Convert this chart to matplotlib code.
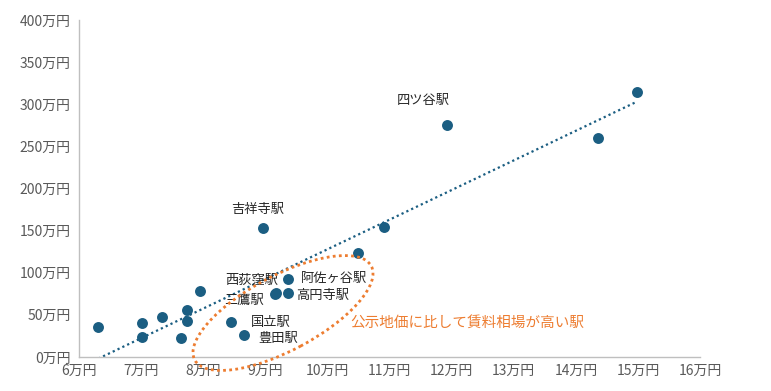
import numpy as np
import matplotlib
matplotlib.use("Agg")
import matplotlib.pyplot as plt
from matplotlib.patches import Ellipse
from matplotlib.transforms import IdentityTransform

plt.rcParams['font.family'] = ['Noto Sans CJK JP', 'DejaVu Sans']

# land price (万円) vs. rent level (万円)
land_price = [6.31, 7.01, 7.01, 7.34, 7.64, 7.74, 7.74, 7.95, 8.45, 8.66,
              8.96, 9.17, 9.15, 9.37, 9.37, 10.49, 10.91, 11.93, 14.36, 14.99]
rent = [35.6, 40.0, 23.7, 47.5, 22.5, 55.8, 42.7, 78.3, 41.5, 26.0,
        153.0, 75.5, 74.5, 76.0, 92.6, 123.4, 154.3, 275.4, 260.0, 314.5]
station = ['', '', '', '', '', '', '', '', '国立駅', '豊田駅',
           '吉祥寺駅', '西荻窪駅', '三鷹駅', '高円寺駅', '阿佐ヶ谷駅', '', '', '四ツ谷駅', '', '']

x_ticks = list(range(6, 17))
y_ticks = list(range(0, 401, 50))
note = '公示地価に比して賃料相場が高い駅'

# label offsets in pixels (dx, dy), alignment
label_pos = {
    '国立駅': (20, 0, 'left'),
    '豊田駅': (14, -3, 'left'),
    '吉祥寺駅': (-5, 19, 'center'),
    '西荻窪駅': (2, 13, 'right'),
    '三鷹駅': (-11, -6, 'right'),
    '高円寺駅': (8, -3, 'left'),
    '阿佐ヶ谷駅': (13, 1, 'left'),
    '四ツ谷駅': (-24, 24, 'center'),
}

blue = '#1b5e82'
orange = '#ed7d31'
grey = '#595959'

fig = plt.figure(figsize=(7.71, 3.91), dpi=100)
ax = fig.add_axes([0.1025, 0.087, 0.8055, 0.862])

ax.scatter(land_price, rent, s=62, color=blue, zorder=3, linewidths=0)

# linear trend line
coef = np.polyfit(land_price, rent, 1)
xs = np.array([min(land_price), max(land_price)])
ax.plot(xs, np.polyval(coef, xs), color=blue, linestyle=(0, (1, 1.4)), linewidth=1.6, zorder=2)

for xv, yv, name in zip(land_price, rent, station):
    if not name:
        continue
    dx, dy, ha = label_pos[name]
    ax.annotate(name, (xv, yv), xytext=(dx, dy), textcoords='offset pixels',
                ha=ha, va='center', fontsize=9.5, color='#262626')

ax.set_xlim(6, 16)
ax.set_ylim(0, 400)
ax.set_xticks(x_ticks)
ax.set_xticklabels([f'{v}万円' for v in x_ticks])
ax.set_yticks(y_ticks)
ax.set_yticklabels([f'{v}万円' for v in y_ticks])
ax.tick_params(length=0, colors=grey, labelsize=10)
ax.tick_params(axis='y', pad=6)
ax.tick_params(axis='x', pad=5)
for side in ['top', 'right']:
    ax.spines[side].set_visible(False)
for side in ['left', 'bottom']:
    ax.spines[side].set_color('#bfbfbf')
    ax.spines[side].set_linewidth(1)

# highlight ellipse, in figure pixels
ell = Ellipse((283, 391 - 313), 200, 75, angle=28, fill=False, edgecolor=orange,
              linestyle=(0, (1, 1.2)), linewidth=2, transform=IdentityTransform(), clip_on=False)
fig.patches.append(ell)
ell.set_figure(fig)

fig.text(350 / 771, 1 - 323 / 391, note, color=orange, fontsize=10.5, ha='left', va='center')

fig.savefig('out.png', dpi=100)
